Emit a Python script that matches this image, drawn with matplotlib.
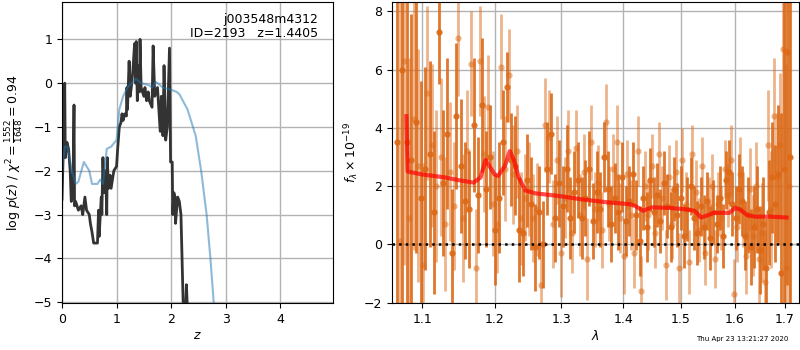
import matplotlib
matplotlib.use("Agg")
import matplotlib.pyplot as plt
from matplotlib.ticker import FixedLocator, NullLocator, FormatStrFormatter

# ── Left panel: log p(z) ──────────────────────────────────────────
z_chi = [0.00, 0.02, 0.05, 0.06, 0.09, 0.12, 0.15, 0.17, 0.20, 0.22, 0.23,
         0.25, 0.30, 0.35, 0.38, 0.42, 0.45, 0.50, 0.52, 0.55, 0.58, 0.65,
         0.67, 0.68, 0.72, 0.73, 0.75, 0.77, 0.80, 0.82, 0.83, 0.85, 0.88,
         0.90, 0.95, 1.00, 1.02, 1.05, 1.08, 1.10, 1.12, 1.15, 1.18, 1.19,
         1.20, 1.23, 1.25, 1.27, 1.30, 1.33, 1.35, 1.36, 1.38, 1.40, 1.42,
         1.43, 1.45, 1.50, 1.52, 1.55, 1.58, 1.60, 1.65, 1.67, 1.70, 1.75,
         1.80, 1.82, 1.85, 1.87, 1.90, 1.93, 1.97, 1.99, 2.00, 2.02, 2.03,
         2.05, 2.07, 2.08, 2.12, 2.15, 2.18, 2.20, 2.22, 2.27, 2.28, 2.30]
lnp_chi = [-2.65, -1.7, 0.0, -1.7, -1.35, -1.5, -2.0, -2.7, -2.5, -0.5, -2.8,
           -2.7, -2.9, -2.8, -3.0, -2.6, -2.9, -3.0, -3.2, -3.4, -3.65, -3.65,
           -2.9, -3.5, -2.6, -3.0, -1.7, -2.5, -2.0, -3.0, -1.7, -2.4, -2.1,
           -2.4, -2.0, -1.9, -1.5, -1.0, -0.9, -0.7, -0.85, -0.7, -0.75, -0.1,
           -0.6, 0.5, -0.3, -0.1, 0.3, 0.9, 0.0, 0.95, -0.4, 0.4, -0.2,
           1.0, -0.1, -0.3, -0.1, -0.4, -0.2, -0.4, -0.55, 0.85, -0.3, -0.1,
           -1.1, -0.3, -1.2, 0.4, -1.3, -1.0, 0.8, -1.8, -1.8, -1.8, -3.0,
           -2.5, -2.6, -3.2, -2.6, -2.7, -3.0, -4.0, -5.0, -5.0, -4.6, -5.2]

z_pz = [0.00, 0.05, 0.10, 0.18, 0.25, 0.30, 0.40, 0.50, 0.55, 0.65, 0.70,
        0.75, 0.82, 0.90, 1.00, 1.05, 1.12, 1.20, 1.35, 1.45, 1.60, 1.65,
        1.72, 1.85, 2.00, 2.10, 2.15, 2.30, 2.45, 2.55, 2.65, 2.72, 2.78]
lnp_pz = [-2.0, -1.45, -1.45, -2.0, -2.3, -2.25, -1.8, -2.0, -2.3, -2.3, -2.2,
          -2.3, -1.5, -1.45, -1.3, -0.6, -0.3, -0.1, 0.1, 0.0, -0.05, -0.1,
          0.03, -0.1, -0.15, -0.2, -0.25, -0.6, -1.2, -2.0, -3.0, -4.0, -5.0]

# ── Right panel: spectrum (two grism series) + model ─────────────
wave_a = [1.068, 1.074, 1.080, 1.086, 1.092, 1.098, 1.104, 1.110, 1.116, 1.122,
          1.128, 1.134, 1.140, 1.146, 1.152, 1.158, 1.164, 1.170, 1.176, 1.182,
          1.188, 1.194, 1.200, 1.206, 1.212, 1.218, 1.224, 1.230, 1.236, 1.242,
          1.248, 1.254, 1.260, 1.266, 1.272, 1.278, 1.284, 1.290, 1.296, 1.302,
          1.308, 1.314, 1.320, 1.326, 1.332, 1.338, 1.344, 1.350, 1.356, 1.362,
          1.368, 1.374, 1.380, 1.386, 1.392, 1.398, 1.404, 1.410, 1.416, 1.422,
          1.428, 1.434, 1.440, 1.446, 1.452, 1.458, 1.464, 1.470, 1.476, 1.482,
          1.488, 1.494, 1.500, 1.506, 1.512, 1.518, 1.524, 1.530, 1.536, 1.542,
          1.548, 1.554, 1.560, 1.566, 1.572, 1.578, 1.584, 1.590, 1.596, 1.602,
          1.608, 1.614, 1.620, 1.626, 1.632, 1.638, 1.644, 1.650, 1.656, 1.662,
          1.668, 1.674, 1.680, 1.686, 1.692, 1.698, 1.704, 1.710]
flux_a = [3.5, 6.0, 3.5, 2.9, 4.2, 1.6, 2.6, 3.1, 1.1, 7.3,
          2.1, 3.8, -0.3, 4.4, 2.7, 1.5, 1.2, 4.1, 1.7, 4.8,
          1.9, 3.0, 0.5, 1.6, 3.5, 5.4, 2.9, 2.7, 0.5, 0.4,
          2.2, 1.4, -0.1, 1.1, 0.0, 2.6, 3.8, 0.9, 2.1, 1.3,
          2.6, 0.9, 1.8, 2.2, 0.9, 1.6, 2.6, 0.8, 1.8, 1.2,
          3.0, 1.9, 0.7, 1.6, 1.1, 2.3, 0.8, 1.5, 2.4, 1.0,
          0.1, 1.6, 0.6, 2.2, 1.1, 1.7, 0.8, 2.1, 1.3, 0.6,
          1.9, 1.0, 1.6, 0.3, 1.2, 2.0, 0.9, 0.4, 1.3, 0.6,
          1.5, 0.2, 1.1, 0.7, 1.6, 0.3, 2.2, 2.5, 1.4, 0.9,
          1.9, 1.5, 0.3, 1.0, -0.1, 0.6, 1.2, -0.2, 0.7, -0.8,
          1.1, 2.3, 1.4, 2.4, -1.0, 2.6, 6.6, 3.0]
err_a = [9.0, 8.0, 6.0, 5.0, 4.5, 4.0, 3.5, 3.2, 2.8, 1.8,
         2.5, 2.6, 2.2, 2.5, 2.3, 2.0, 2.0, 2.3, 2.0, 2.3,
         2.0, 1.8, 1.9, 1.9, 1.8, 1.2, 1.6, 1.7, 1.8, 1.5,
         1.6, 1.6, 1.5, 1.6, 1.5, 1.6, 1.4, 1.5, 1.5, 1.4,
         1.5, 1.4, 1.4, 1.3, 1.4, 1.3, 1.3, 1.3, 1.4, 1.3,
         1.2, 1.3, 1.3, 1.2, 1.3, 1.2, 1.2, 1.2, 1.1, 1.2,
         1.2, 1.1, 1.2, 1.1, 1.2, 1.1, 1.1, 1.1, 1.1, 1.2,
         1.1, 1.1, 1.1, 1.1, 1.1, 1.0, 1.1, 1.1, 1.0, 1.1,
         1.0, 1.1, 1.1, 1.0, 1.1, 1.1, 1.0, 1.1, 1.1, 1.1,
         1.2, 1.2, 1.2, 1.3, 1.3, 1.4, 1.5, 1.5, 1.6, 1.7,
         1.8, 1.9, 2.0, 2.4, 5.5, 7.0, 8.0, 9.0]

wave_b = [1.071, 1.077, 1.083, 1.089, 1.095, 1.101, 1.107, 1.113, 1.119, 1.125,
          1.131, 1.137, 1.143, 1.149, 1.155, 1.161, 1.167, 1.173, 1.179, 1.185,
          1.191, 1.197, 1.203, 1.209, 1.215, 1.221, 1.227, 1.233, 1.239, 1.245,
          1.251, 1.257, 1.263, 1.269, 1.275, 1.281, 1.287, 1.293, 1.299, 1.305,
          1.311, 1.317, 1.323, 1.329, 1.335, 1.341, 1.347, 1.353, 1.359, 1.365,
          1.371, 1.377, 1.383, 1.389, 1.395, 1.401, 1.407, 1.413, 1.419, 1.425,
          1.431, 1.437, 1.443, 1.449, 1.455, 1.461, 1.467, 1.473, 1.479, 1.485,
          1.491, 1.497, 1.503, 1.509, 1.515, 1.521, 1.527, 1.533, 1.539, 1.545,
          1.551, 1.557, 1.563, 1.569, 1.575, 1.581, 1.587, 1.593, 1.599, 1.605,
          1.611, 1.617, 1.623, 1.629, 1.635, 1.641, 1.647, 1.653, 1.659, 1.665,
          1.671, 1.677, 1.683, 1.689, 1.695, 1.701, 1.707]
flux_b = [0.1, 6.3, 0.9, 4.3, 2.7, -0.7, 5.2, 3.4, 2.0, 3.0,
          0.7, 2.5, 1.3, 7.1, 0.9, 3.2, 6.2, -0.8, 6.3, 3.1,
          4.7, 1.4, 0.7, 6.1, 2.6, 5.8, 2.4, 3.2, 0.9, 1.6,
          1.9, 0.9, 1.2, -1.4, 4.1, 3.7, 0.7, 2.9, -0.3, 1.6,
          3.2, 0.4, 3.3, 1.0, 2.5, -0.5, 3.5, 1.2, 2.1, 0.5,
          4.2, 1.4, 2.6, 3.5, 0.9, -0.4, 2.4, 1.0, -0.3, 3.2,
          -1.6, 2.0, 1.0, 2.7, 0.4, 3.1, 1.6, -0.7, 2.3, 0.7,
          2.5, -0.8, 2.9, 1.4, -0.6, 3.1, 1.8, 0.5, 2.7, -0.3,
          1.3, 2.0, -0.5, 1.4, 0.9, 2.6, 1.7, 2.9, -1.7, 0.6,
          2.4, 1.2, -0.4, 1.9, 0.3, 2.0, -0.5, 0.4, -1.3, 3.4,
          1.2, 4.4, 2.3, 3.4, 6.7, -0.8, 2.0]
err_b = [9.0, 7.0, 5.5, 4.5, 4.0, 3.5, 3.0, 2.8, 2.6, 2.7,
         2.3, 2.4, 2.2, 2.0, 2.2, 2.1, 1.8, 2.0, 1.9, 2.0,
         1.8, 1.8, 1.7, 1.8, 1.8, 1.6, 1.7, 1.6, 1.6, 1.5,
         1.6, 1.5, 1.6, 1.5, 1.6, 1.6, 1.5, 1.5, 1.5, 1.4,
         1.4, 1.4, 1.3, 1.4, 1.3, 1.4, 1.3, 1.3, 1.3, 1.3,
         1.3, 1.3, 1.2, 1.3, 1.2, 1.3, 1.2, 1.2, 1.2, 1.2,
         1.2, 1.2, 1.2, 1.1, 1.2, 1.1, 1.1, 1.2, 1.1, 1.2,
         1.1, 1.2, 1.1, 1.1, 1.1, 1.0, 1.1, 1.1, 1.0, 1.1,
         1.0, 1.1, 1.0, 1.1, 1.1, 1.0, 1.1, 1.2, 1.2, 1.2,
         1.3, 1.3, 1.3, 1.4, 1.4, 1.5, 1.6, 1.7, 1.8, 1.9,
         2.0, 2.0, 2.2, 2.5, 4.0, 7.0, 9.0]

wave_model = [1.0795, 1.0811, 1.10, 1.13, 1.15, 1.17, 1.18, 1.187, 1.20, 1.205,
              1.215, 1.222, 1.228, 1.235, 1.245, 1.26, 1.30, 1.33, 1.37, 1.41,
              1.42, 1.434, 1.44, 1.45, 1.48, 1.51, 1.525, 1.537, 1.55, 1.56,
              1.59, 1.601, 1.61, 1.625, 1.64, 1.67, 1.703]
flux_model = [4.4, 2.5, 2.4, 2.3, 2.2, 2.12, 2.3, 2.9, 2.4, 2.35,
              2.7, 3.2, 2.9, 2.3, 1.85, 1.75, 1.65, 1.55, 1.45, 1.38,
              1.32, 1.15, 1.2, 1.27, 1.25, 1.2, 1.15, 0.92, 1.0, 1.08,
              1.08, 1.25, 1.2, 1.0, 0.95, 0.95, 0.92]

LAM_TICKS = [1.1, 1.2, 1.3, 1.4, 1.5, 1.6, 1.7]
SPEC_COLOR = "#dc6917"

plt.rcParams.update({
    "font.size": 9,
    "axes.unicode_minus": True,
})

fig = plt.figure(figsize=(8, 3.5), dpi=100)
ax1 = fig.add_axes([0.0775, 0.134, 0.339, 0.860])
ax2 = fig.add_axes([0.490, 0.134, 0.509, 0.860])

# left: redshift probability
ax1.plot(z_chi, lnp_chi, color="0.2", lw=2)
ax1.plot(z_pz, lnp_pz, color="tab:blue", alpha=0.5, lw=1.5)
ax1.set_xlim(0, 4.97)
ax1.set_ylim(-5.02, 1.85)
ax1.set_xticks([0, 1, 2, 3, 4])
ax1.set_yticks([-5, -4, -3, -2, -1, 0, 1])
ax1.grid(color="0.7", lw=1)
ax1.set_xlabel("$z$", labelpad=2)
ax1.set_ylabel(r"log $p(z)$ / $\chi^2=\frac{1552}{1648}=0.94$", labelpad=6)
ax1.text(0.945, 0.965, "j003548m4312\nID=2193   z=1.4405",
         ha="right", va="top", transform=ax1.transAxes, fontsize=9,
         linespacing=1.15)

# right: spectrum
ax2.errorbar(wave_b, flux_b, yerr=err_b, fmt="o", color=SPEC_COLOR,
             ecolor=SPEC_COLOR, alpha=0.5, ms=4.5, elinewidth=2, capsize=0,
             mew=0)
ax2.errorbar(wave_a, flux_a, yerr=err_a, fmt="o", color=SPEC_COLOR,
             ecolor=SPEC_COLOR, alpha=0.9, ms=4.5, elinewidth=2, capsize=0,
             mew=0)
ax2.plot(wave_model, flux_model, color="red", alpha=0.7, lw=3, zorder=5)
ax2.axhline(0, color="k", ls=":", lw=1.8, zorder=6)

ax2.set_xscale("log")
ax2.xaxis.set_major_locator(FixedLocator(LAM_TICKS))
ax2.xaxis.set_major_formatter(FormatStrFormatter("%.1f"))
ax2.xaxis.set_minor_locator(NullLocator())
ax2.set_xlim(1.061, 1.729)
ax2.set_ylim(-2.02, 8.32)
ax2.set_yticks([-2, 0, 2, 4, 6, 8])
ax2.grid(color="0.7", lw=1)
ax2.set_xlabel(r"$\lambda$", labelpad=2)
ax2.set_ylabel(r"$f_\lambda\times 10^{-19}$", labelpad=2)

fig.text(0.985, 0.032, "Thu Apr 23 13:21:27 2020", ha="right", va="center",
         fontsize=5)

fig.savefig("out.png", dpi=100)
